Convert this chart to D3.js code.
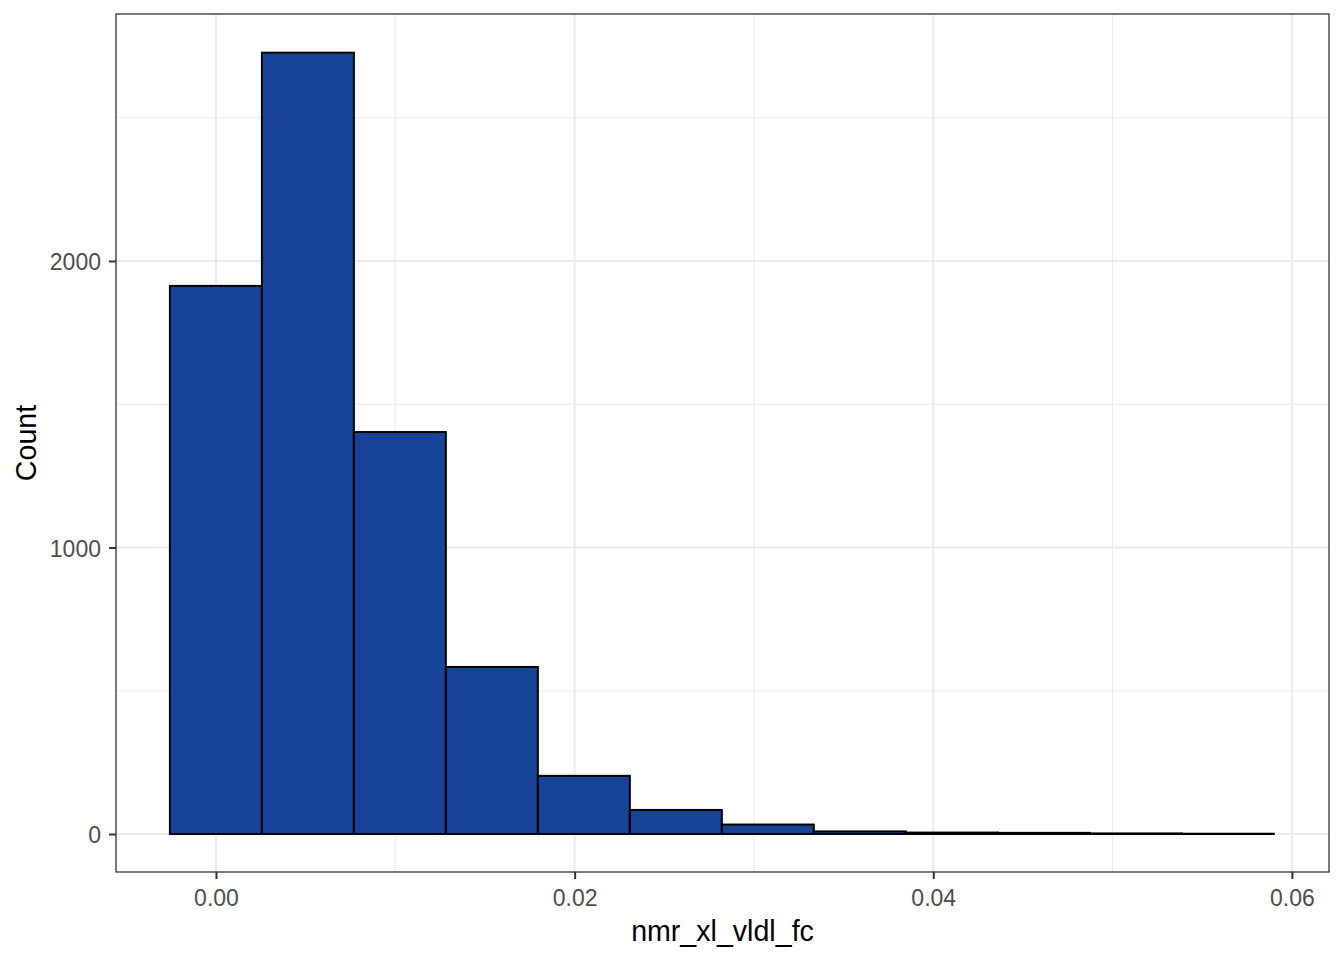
<!DOCTYPE html>
<html>
<head>
<meta charset="utf-8">
<script src="https://cdn.jsdelivr.net/npm/d3@7"></script>
<style>
  html, body { margin: 0; padding: 0; background: #fff; }
  svg { display: block; font-family: "Liberation Sans", Arial, sans-serif; }
</style>
</head>
<body>
<svg id="chart" width="1344" height="960"></svg>
<script>
// ---- data ----
const binEdges = [-0.00257, 0.00256, 0.00769, 0.01282, 0.01795, 0.02308, 0.02821,
                  0.03334, 0.03847, 0.0436, 0.04873, 0.05386, 0.05899];
const counts = [1913, 2727, 1403, 583, 203, 84, 33, 9, 5, 4, 2, 1];
const xTicks = [0, 0.02, 0.04, 0.06];
const xMinor = [0.01, 0.03, 0.05];
const yTicks = [0, 1000, 2000];
const yMinor = [500, 1500, 2500];
const xLabel = "nmr_xl_vldl_fc";
const yLabel = "Count";

const bins = counts.map((c, i) => ({ x0: binEdges[i], x1: binEdges[i + 1], count: c }));

// ---- layout ----
const W = 1344, H = 960;
const panel = { left: 116, right: 1329, top: 14, bottom: 872 };

const x = d3.scaleLinear().domain([-0.005576, 0.06207]).range([panel.left, panel.right]);
const y = d3.scaleLinear().domain([-132.6, 2862]).range([panel.bottom, panel.top]);

const svg = d3.select("#chart");
svg.append("rect").attr("width", W).attr("height", H).attr("fill", "#fff");

const g = svg.append("g");

// minor grid
g.selectAll(".xminor").data(xMinor).join("line")
  .attr("x1", d => x(d)).attr("x2", d => x(d))
  .attr("y1", panel.top).attr("y2", panel.bottom)
  .attr("stroke", "#EBEBEB").attr("stroke-width", 1);
g.selectAll(".yminor").data(yMinor).join("line")
  .attr("y1", d => y(d)).attr("y2", d => y(d))
  .attr("x1", panel.left).attr("x2", panel.right)
  .attr("stroke", "#EBEBEB").attr("stroke-width", 1);

// major grid
g.selectAll(".xmajor").data(xTicks).join("line")
  .attr("x1", d => x(d)).attr("x2", d => x(d))
  .attr("y1", panel.top).attr("y2", panel.bottom)
  .attr("stroke", "#EBEBEB").attr("stroke-width", 2);
g.selectAll(".ymajor").data(yTicks).join("line")
  .attr("y1", d => y(d)).attr("y2", d => y(d))
  .attr("x1", panel.left).attr("x2", panel.right)
  .attr("stroke", "#EBEBEB").attr("stroke-width", 2);

// bars
g.selectAll(".bar").data(bins).join("rect")
  .attr("x", d => x(d.x0))
  .attr("width", d => x(d.x1) - x(d.x0))
  .attr("y", d => y(d.count))
  .attr("height", d => y(0) - y(d.count))
  .attr("fill", "#174499")
  .attr("stroke", "#000")
  .attr("stroke-width", 2);

// panel border
g.append("rect")
  .attr("x", panel.left).attr("y", panel.top)
  .attr("width", panel.right - panel.left).attr("height", panel.bottom - panel.top)
  .attr("fill", "none").attr("stroke", "#333333").attr("stroke-width", 1.3);

// axes
const xAxis = d3.axisBottom(x).tickValues(xTicks).tickFormat(d3.format(".2f"))
  .tickSize(7).tickPadding(11);
const gx = svg.append("g").attr("transform", `translate(0,${panel.bottom})`).call(xAxis);
gx.select(".domain").remove();
gx.selectAll(".tick line").attr("stroke", "#333333").attr("stroke-width", 2);
gx.selectAll(".tick text").attr("fill", "#4D4D4D").attr("font-size", 23)
  .attr("font-family", "'Liberation Sans', Arial, sans-serif");

const yAxis = d3.axisLeft(y).tickValues(yTicks).tickFormat(d3.format("d"))
  .tickSize(7).tickPadding(8);
const gy = svg.append("g").attr("transform", `translate(${panel.left},0)`).call(yAxis);
gy.select(".domain").remove();
gy.selectAll(".tick line").attr("stroke", "#333333").attr("stroke-width", 2);
gy.selectAll(".tick text").attr("fill", "#4D4D4D").attr("font-size", 23)
  .attr("dy", "0.38em")
  .attr("font-family", "'Liberation Sans', Arial, sans-serif");

// axis titles
svg.append("text")
  .attr("x", (panel.left + panel.right) / 2).attr("y", 941)
  .attr("text-anchor", "middle").attr("font-size", 28.6).attr("fill", "#000")
  .text(xLabel);
svg.append("text")
  .attr("transform", `translate(36,${(panel.top + panel.bottom) / 2}) rotate(-90)`)
  .attr("text-anchor", "middle").attr("font-size", 28.6).attr("fill", "#000")
  .text(yLabel);
</script>
</body>
</html>
